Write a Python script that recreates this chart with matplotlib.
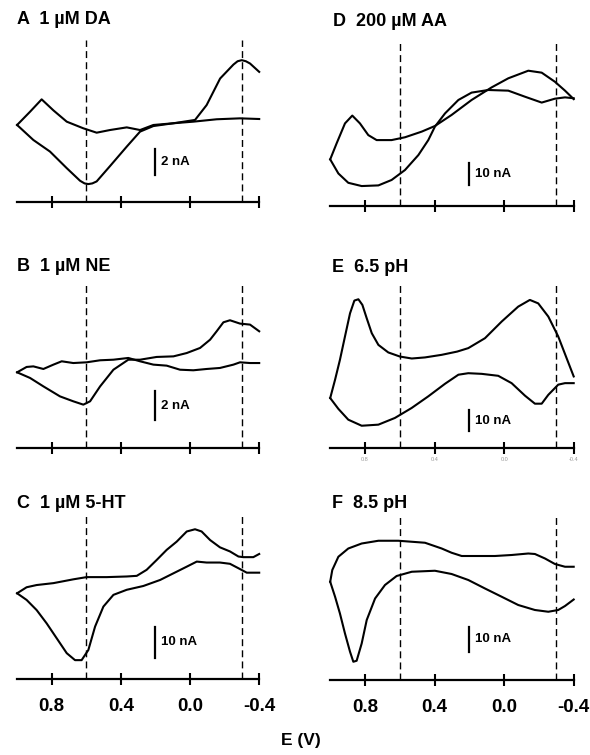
import matplotlib
matplotlib.use('Agg')
import matplotlib.pyplot as plt

# cyclic voltammograms, potential in V, current in nA
A_up_E = [1.0, 0.925, 0.858, 0.79, 0.713, 0.617, 0.54, 0.463, 0.366, 0.289, 0.212, 0.096, -0.019, -0.154, -0.289, -0.4]
A_up_I = [0, 1.0, 1.93, 1.1, 0.25, -0.25, -0.58, -0.38, -0.18, -0.38, 0, 0.13, 0.25, 0.43, 0.5, 0.45]
A_dn_E = [1.0, 0.906, 0.81, 0.713, 0.636, 0.61, 0.588, 0.565, 0.54, 0.463, 0.366, 0.289, 0.212, 0.096, -0.029, -0.096, -0.174, -0.251, -0.275, -0.299, -0.323, -0.347, -0.4]
A_dn_I = [0, -1.13, -2.0, -3.25, -4.2, -4.4, -4.45, -4.4, -4.25, -3.1, -1.63, -0.5, -0.08, 0.13, 0.38, 1.5, 3.5, 4.55, 4.8, 4.88, 4.8, 4.63, 4.0]

B_up_E = [1.0, 0.945, 0.906, 0.848, 0.790, 0.742, 0.675, 0.598, 0.520, 0.443, 0.357, 0.289, 0.212, 0.135, 0.058, -0.019, -0.096, -0.173, -0.251, -0.289, -0.347, -0.4]
B_up_I = [0, 0.37, 0.41, 0.23, 0.53, 0.76, 0.64, 0.69, 0.83, 0.87, 0.99, 0.76, 0.53, 0.46, 0.18, 0.14, 0.23, 0.30, 0.53, 0.69, 0.64, 0.64]
B_dn_E = [1.0, 0.925, 0.848, 0.752, 0.675, 0.617, 0.578, 0.520, 0.443, 0.357, 0.289, 0.193, 0.096, 0.019, -0.058, -0.116, -0.154, -0.193, -0.231, -0.289, -0.347, -0.4]
B_dn_I = [0, -0.39, -0.97, -1.66, -2.0, -2.23, -2.0, -0.97, 0.18, 0.87, 0.87, 1.06, 1.10, 1.33, 1.68, 2.25, 2.83, 3.45, 3.59, 3.36, 3.29, 2.83]

C_up_E = [1.0, 0.945, 0.887, 0.790, 0.675, 0.598, 0.482, 0.366, 0.308, 0.251, 0.193, 0.135, 0.077, 0.019, -0.029, -0.067, -0.116, -0.173, -0.231, -0.280, -0.308, -0.366, -0.4]
C_up_I = [0, 1.9, 2.6, 3.2, 4.4, 5.1, 5.1, 5.3, 5.5, 7.4, 10.5, 13.7, 16.3, 19.5, 20.2, 19.5, 16.8, 14.5, 13.2, 11.6, 11.4, 11.4, 12.4]
C_dn_E = [1.0, 0.945, 0.887, 0.829, 0.771, 0.713, 0.665, 0.627, 0.588, 0.549, 0.501, 0.443, 0.366, 0.270, 0.173, 0.096, 0.019, -0.039, -0.096, -0.173, -0.231, -0.280, -0.328, -0.4]
C_dn_I = [0, -2.1, -5.3, -9.5, -14.2, -18.9, -21.1, -21.1, -17.9, -10.5, -4.2, -0.5, 1.1, 2.3, 4.2, 6.3, 8.4, 10.0, 9.7, 9.7, 9.3, 7.9, 6.5, 6.5]

D_up_E = [1.0, 0.963, 0.915, 0.873, 0.829, 0.781, 0.733, 0.647, 0.570, 0.474, 0.398, 0.302, 0.187, 0.072, -0.024, -0.139, -0.216, -0.292, -0.350, -0.4]
D_up_I = [0, 7.4, 16.6, 20.2, 16.6, 11.2, 8.9, 8.9, 10.2, 12.8, 15.4, 20.5, 27.4, 33.2, 37.4, 40.9, 40.0, 35.8, 31.7, 27.8]
D_dn_E = [1.0, 0.953, 0.896, 0.819, 0.723, 0.647, 0.570, 0.493, 0.436, 0.398, 0.340, 0.263, 0.187, 0.091, -0.024, -0.120, -0.216, -0.292, -0.350, -0.4]
D_dn_I = [0, -6.5, -10.8, -12.3, -12.0, -9.5, -4.9, 2.0, 8.9, 15.1, 21.2, 27.4, 30.8, 32.0, 31.7, 28.9, 26.2, 28.0, 28.6, 28.2]

E_up_E = [1.0, 0.972, 0.944, 0.915, 0.886, 0.861, 0.838, 0.815, 0.790, 0.761, 0.723, 0.666, 0.599, 0.531, 0.455, 0.359, 0.270, 0.206, 0.110, 0.014, -0.081, -0.148, -0.196, -0.254, -0.311, -0.359, -0.4]
E_up_I = [0, 8.5, 17.7, 28.5, 39.2, 45.1, 45.7, 43.1, 36.9, 30.0, 24.6, 21.1, 19.2, 18.3, 18.8, 20.0, 21.5, 23.1, 27.7, 35.4, 42.3, 45.4, 43.8, 37.7, 28.5, 18.5, 10.0]
E_dn_E = [1.0, 0.953, 0.896, 0.819, 0.723, 0.628, 0.532, 0.436, 0.340, 0.263, 0.206, 0.129, 0.034, -0.043, -0.120, -0.177, -0.216, -0.254, -0.311, -0.350, -0.4]
E_dn_I = [0, -5.0, -10.0, -12.8, -12.3, -9.2, -4.6, 0.8, 6.6, 10.8, 11.5, 11.2, 10.3, 6.9, 1.1, -2.6, -2.6, 1.5, 6.2, 6.9, 6.9]

F_up_E = [1.0, 0.988, 0.953, 0.896, 0.819, 0.723, 0.608, 0.455, 0.359, 0.302, 0.244, 0.149, 0.053, -0.043, -0.139, -0.177, -0.235, -0.292, -0.350, -0.4]
F_up_I = [0, 4.7, 10.0, 13.3, 15.3, 16.4, 16.4, 15.6, 13.3, 11.6, 10.3, 10.3, 10.3, 10.7, 11.3, 11.1, 9.3, 7.1, 6.0, 6.0]
F_dn_E = [1.0, 0.972, 0.944, 0.915, 0.886, 0.867, 0.848, 0.819, 0.790, 0.742, 0.685, 0.618, 0.531, 0.398, 0.302, 0.206, 0.110, 0.014, -0.081, -0.177, -0.254, -0.311, -0.350, -0.4]
F_dn_I = [0, -6.0, -12.7, -20.7, -28.0, -32.0, -31.6, -24.7, -15.3, -6.7, -1.3, 2.3, 4.0, 4.4, 3.1, 0.7, -2.7, -6.0, -9.3, -11.3, -12.0, -11.3, -9.7, -7.1]

titles = ['A  1 µM DA', 'B  1 µM NE', 'C  1 µM 5-HT', 'D  200 µM AA', 'E  6.5 pH', 'F  8.5 pH']
scale_nA = [2, 2, 10, 10, 10, 10]
tick_vals = [0.8, 0.4, 0.0, -0.4]
tick_labels = ['0.8', '0.4', '0.0', '-0.4']
dashed_E = [0.6, -0.3]

W, H = 590, 755
plt.rcParams['font.family'] = ['Liberation Sans', 'DejaVu Sans']
fig = plt.figure(figsize=(W / 100, H / 100), dpi=100)


def rect(x0, x1, ytop, ybot):
    return [x0 / W, 1 - ybot / H, (x1 - x0) / W, (ybot - ytop) / H]


# layout per panel: axes rect in px, ylim, scale bar bottom (nA), title pos
layout = [
    (rect(17.1, 259.2, 40, 202), (-5.8, 6.4), -3.8, (17, 20)),
    (rect(17.1, 259.2, 283, 448), (-5.22, 6.16), -3.31, (17, 266)),
    (rect(17.1, 259.2, 515, 679), (-27.05, 24.7), -20.5, (17, 503)),
    (rect(330.2, 573.7, 41, 206), (-21.5, 54.6), -11.85, (333, 22)),
    (rect(330.2, 573.7, 285, 448), (-23.1, 52.3), -15.4, (332, 267)),
    (rect(330.2, 573.7, 515, 680), (-39.3, 26.7), -28.0, (332, 503)),
]
curves = [
    (A_up_E, A_up_I, A_dn_E, A_dn_I),
    (B_up_E, B_up_I, B_dn_E, B_dn_I),
    (C_up_E, C_up_I, C_dn_E, C_dn_I),
    (D_up_E, D_up_I, D_dn_E, D_dn_I),
    (E_up_E, E_up_I, E_dn_E, E_dn_I),
    (F_up_E, F_up_I, F_dn_E, F_dn_I),
]

for i in range(6):
    r, ylim, sb0, tpos = layout[i]
    ue, ui, de, di = curves[i]
    ax = fig.add_axes(r)
    ax.plot(ue, ui, color='black', lw=1.5, clip_on=False, solid_joinstyle='round')
    ax.plot(de, di, color='black', lw=1.5, clip_on=False, solid_joinstyle='round')
    for e in dashed_E:
        ax.axvline(e, color='black', lw=1.0, ls=(0, (5, 3)))
    # scale bar
    ax.plot([0.2, 0.2], [sb0, sb0 + scale_nA[i]], color='black', lw=1.6)
    ax.text(0.165, sb0 + scale_nA[i] / 2, f'{scale_nA[i]} nA', fontsize=9.5,
            fontweight='bold', ha='left', va='center')
    ax.set_xlim(1.0, -0.4)
    ax.set_ylim(*ylim)
    for s in ['left', 'right', 'top']:
        ax.spines[s].set_visible(False)
    ax.spines['bottom'].set_linewidth(1.6)
    ax.set_yticks([])
    ax.set_xticks(tick_vals)
    ax.tick_params(axis='x', direction='inout', length=9, width=1.5)
    if i in (2, 5):
        ax.set_xticklabels(tick_labels, fontsize=13.5, fontweight='bold')
        ax.tick_params(axis='x', pad=9)
    elif i == 4:
        ax.set_xticklabels(tick_labels, fontsize=4, color='0.6')
        ax.tick_params(axis='x', pad=2)
    else:
        ax.set_xticklabels([])
    fig.text(tpos[0] / W, 1 - tpos[1] / H, titles[i], fontsize=13,
             fontweight='bold', ha='left', va='center')

fig.text(301 / W, 1 - 741 / H, 'E (V)', fontsize=12.5, fontweight='bold',
         ha='center', va='center')

fig.savefig('out.png', dpi=100, facecolor='white')
